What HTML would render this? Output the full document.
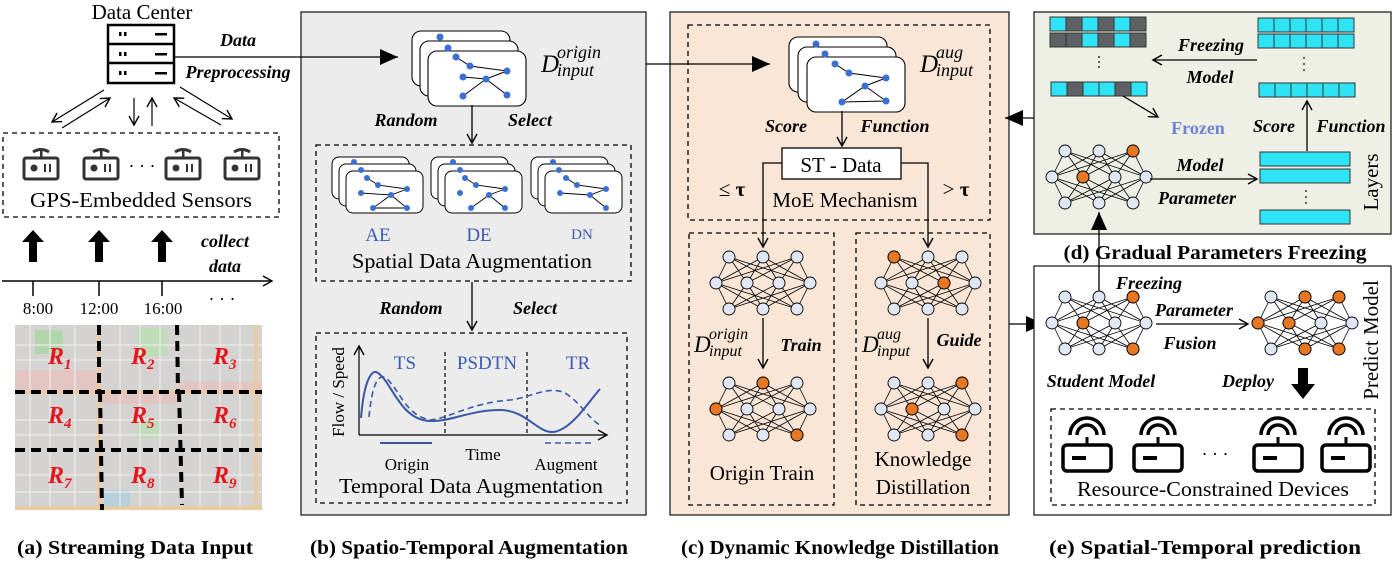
<!DOCTYPE html>
<html><head><meta charset="utf-8"><style>
html,body{margin:0;padding:0;background:#fff}
svg{display:block}
text{font-family:"Liberation Serif",serif}
.bi{font-weight:bold;font-style:italic;font-size:18px}
.t{font-size:21px}
.cap{font-weight:bold;font-size:20px}
.bl{fill:#3b5bb5}
</style></head><body>
<svg width="1393" height="561" viewBox="0 0 1393 561" xmlns="http://www.w3.org/2000/svg">
<defs>
<marker id="oa" markerWidth="12" markerHeight="12" refX="10" refY="6" orient="auto" markerUnits="userSpaceOnUse"><path d="M1,1 L10,6 L1,11" fill="none" stroke="#000" stroke-width="1.4"/></marker>
<marker id="fa" markerWidth="20" markerHeight="16" refX="18" refY="8" orient="auto" markerUnits="userSpaceOnUse"><path d="M0,0 L18,8 L0,16 Z" fill="#000"/></marker>
<symbol id="net" overflow="visible">
<g stroke="#000" stroke-width="0.8">
<path d="M-34,-26L-47,0M-34,-26L-16,0M-34,-26L16,0M-34,-26L47,0M0,-26L-47,0M0,-26L-16,0M0,-26L16,0M0,-26L47,0M34,-26L-47,0M34,-26L-16,0M34,-26L16,0M34,-26L47,0M-34,26L-47,0M-34,26L-16,0M-34,26L16,0M-34,26L47,0M0,26L-47,0M0,26L-16,0M0,26L16,0M0,26L47,0M34,26L-47,0M34,26L-16,0M34,26L16,0M34,26L47,0"/>
</g>
<g fill="#dfe7f6" stroke="#000" stroke-width="0.9">
<circle cx="-34" cy="-26" r="6"/><circle cx="0" cy="-26" r="6"/><circle cx="34" cy="-26" r="6"/>
<circle cx="-47" cy="0" r="6"/><circle cx="-16" cy="0" r="6"/><circle cx="16" cy="0" r="6"/><circle cx="47" cy="0" r="6"/>
<circle cx="-34" cy="26" r="6"/><circle cx="0" cy="26" r="6"/><circle cx="34" cy="26" r="6"/>
</g>
</symbol>
<symbol id="card" overflow="visible">
<rect x="0" y="0" width="98" height="55" rx="9" fill="#fff" stroke="#000" stroke-width="1.1"/>
</symbol>
<symbol id="scard" overflow="visible">
<rect x="0" y="0" width="77" height="42" rx="7" fill="#fff" stroke="#000" stroke-width="1"/>
</symbol>
<symbol id="sens" overflow="visible">
<rect x="-17" y="-10" width="34" height="21" rx="2" fill="#fff" stroke="#333" stroke-width="3"/>
<circle cx="-7" cy="0" r="3.5" fill="#333"/><rect x="3" y="-4" width="2" height="8" fill="#333"/><rect x="8" y="-4" width="2" height="8" fill="#333"/>
<path d="M-8,-16 Q0,-21 8,-16" fill="none" stroke="#333" stroke-width="3"/><rect x="-1" y="-17" width="2.5" height="7" fill="#333"/>
</symbol>
<symbol id="dev" overflow="visible">
<rect x="-24" y="-10" width="48" height="26" rx="4" fill="#fff" stroke="#000" stroke-width="3.5"/>
<rect x="-15" y="1" width="14" height="4" fill="#000"/>
<rect x="-1.5" y="-18" width="3" height="8" fill="#000"/>
<path d="M-10,-20 A10,10 0 0 1 10,-20" fill="none" stroke="#000" stroke-width="3.5"/>
<path d="M-17,-20 A17,17 0 0 1 17,-20" fill="none" stroke="#000" stroke-width="3.5"/>
</symbol>
</defs>

<!-- ========== (a) ========== -->
<text x="142" y="19" class="t" text-anchor="middle">Data Center</text>
<g stroke="#000" stroke-width="2.5" fill="#fff">
<rect x="108" y="25" width="66" height="58"/>
<line x1="108" y1="44" x2="174" y2="44"/><line x1="108" y1="63" x2="174" y2="63"/>
</g>
<g fill="#000">
<rect x="119" y="32" width="2.5" height="4"/><rect x="124" y="32" width="2.5" height="4"/><rect x="155" y="33" width="12" height="2.5"/>
<rect x="119" y="52" width="2.5" height="4"/><rect x="124" y="52" width="2.5" height="4"/><rect x="155" y="53" width="12" height="2.5"/>
<rect x="119" y="71" width="2.5" height="4"/><rect x="124" y="71" width="2.5" height="4"/><rect x="155" y="72" width="12" height="2.5"/>
</g>
<g stroke="#000" stroke-width="1.2" marker-end="url(#oa)">
<line x1="104" y1="90" x2="52" y2="122"/>
<line x1="62" y1="128" x2="110" y2="98"/>
<line x1="134" y1="98" x2="134" y2="125"/>
<line x1="152" y1="126" x2="152" y2="98"/>
<line x1="180" y1="87" x2="232" y2="119"/>
<line x1="221" y1="125" x2="174" y2="98"/>
</g>
<text x="238" y="46" class="bi" text-anchor="middle">Data</text>
<text x="238" y="78" class="bi" text-anchor="middle">Preprocessing</text>
<line x1="174" y1="57" x2="300" y2="57" stroke="#000" stroke-width="1.3"/>

<rect x="3" y="133" width="276" height="84" fill="none" stroke="#000" stroke-width="1.3" stroke-dasharray="5,4"/>
<use href="#sens" x="41" y="168"/><use href="#sens" x="101" y="168"/><use href="#sens" x="183" y="168"/><use href="#sens" x="242" y="168"/>
<text x="142" y="172" font-size="18" text-anchor="middle">· · ·</text>
<text x="141" y="207" class="t" text-anchor="middle" textLength="222" lengthAdjust="spacingAndGlyphs">GPS-Embedded Sensors</text>

<g fill="#000">
<path d="M33,230 L44,242 L37,242 L37,262 L29,262 L29,242 L22,242 Z"/>
<path d="M99,230 L110,242 L103,242 L103,262 L95,262 L95,242 L88,242 Z"/>
<path d="M162,230 L173,242 L166,242 L166,262 L158,262 L158,242 L151,242 Z"/>
</g>
<text x="225" y="247" class="bi" font-size="21" text-anchor="middle">collect</text>
<text x="225" y="272" class="bi" font-size="21" text-anchor="middle">data</text>
<line x1="2" y1="281" x2="272" y2="281" stroke="#000" stroke-width="1.5" marker-end="url(#oa)"/>
<g stroke="#000" stroke-width="1.5"><line x1="33" y1="281" x2="33" y2="296"/><line x1="99" y1="281" x2="99" y2="296"/><line x1="162" y1="281" x2="162" y2="296"/></g>
<g font-size="17" text-anchor="middle"><text x="38" y="314">8:00</text><text x="99" y="314">12:00</text><text x="163" y="314">16:00</text></g>
<text x="222" y="305" font-size="18" text-anchor="middle">· · ·</text>

<!-- map -->
<rect x="15" y="325" width="247" height="185" fill="#d5d3d1"/>
<rect x="15" y="370" width="85" height="20" fill="#e3c6c2"/>
<rect x="178" y="382" width="84" height="12" fill="#e3c6c2"/>
<rect x="100" y="392" width="78" height="12" fill="#e3c6c2"/>
<rect x="35" y="330" width="28" height="24" fill="#b0d6aa"/>
<rect x="137" y="328" width="30" height="28" fill="#bfdcb8"/>
<rect x="137" y="420" width="22" height="18" fill="#bfdcb8"/>
<rect x="104" y="490" width="26" height="18" fill="#b5d0dc"/>
<g stroke="#ececec" stroke-width="1.2">
<line x1="15" y1="420" x2="262" y2="420"/><line x1="15" y1="475" x2="262" y2="475"/><line x1="15" y1="360" x2="262" y2="360"/>
<line x1="15" y1="345" x2="262" y2="345"/><line x1="15" y1="435" x2="262" y2="435"/><line x1="15" y1="492" x2="262" y2="492"/>
<line x1="50" y1="325" x2="50" y2="510"/><line x1="140" y1="325" x2="140" y2="510"/><line x1="220" y1="325" x2="220" y2="510"/>
<line x1="30" y1="325" x2="30" y2="510"/><line x1="75" y1="325" x2="75" y2="510"/><line x1="120" y1="325" x2="120" y2="510"/><line x1="160" y1="325" x2="160" y2="510"/><line x1="200" y1="325" x2="200" y2="510"/><line x1="240" y1="325" x2="240" y2="510"/>
</g>
<g stroke="#f0c994" stroke-width="3"><line x1="99" y1="325" x2="99" y2="510"/><line x1="15" y1="508" x2="262" y2="508"/><line x1="15" y1="392" x2="262" y2="392"/><line x1="256" y1="325" x2="256" y2="510"/></g>
<g stroke="#000" stroke-width="4" stroke-dasharray="10,6">
<line x1="99" y1="325" x2="99" y2="392"/><line x1="100" y1="392" x2="102" y2="510"/>
<line x1="177" y1="325" x2="178" y2="392"/><line x1="179" y1="392" x2="182" y2="505"/>
<line x1="15" y1="392" x2="262" y2="392"/><line x1="15" y1="450" x2="262" y2="450"/>
</g>
<g fill="#e8141c" font-weight="bold" font-style="italic" font-size="24">
<text x="48" y="364">R<tspan font-size="15" dy="5">1</tspan></text>
<text x="131" y="364">R<tspan font-size="15" dy="5">2</tspan></text>
<text x="213" y="364">R<tspan font-size="15" dy="5">3</tspan></text>
<text x="48" y="423">R<tspan font-size="15" dy="5">4</tspan></text>
<text x="131" y="423">R<tspan font-size="15" dy="5">5</tspan></text>
<text x="213" y="423">R<tspan font-size="15" dy="5">6</tspan></text>
<text x="48" y="483">R<tspan font-size="15" dy="5">7</tspan></text>
<text x="131" y="483">R<tspan font-size="15" dy="5">8</tspan></text>
<text x="213" y="483">R<tspan font-size="15" dy="5">9</tspan></text>
</g>

<!-- ========== (b) ========== -->
<rect x="301" y="12" width="345" height="503" fill="#ececec" stroke="#222" stroke-width="1.3"/>
<line x1="300" y1="57" x2="398" y2="57" stroke="#000" stroke-width="1.3" marker-end="url(#fa)"/>
<use href="#card" x="412" y="31"/><use href="#card" x="420" y="41"/><use href="#card" x="428" y="51"/>
<g fill="#3b6fd4"><circle cx="440" cy="37" r="3.5"/><circle cx="448" cy="48" r="3.5"/></g>
<g stroke="#000" stroke-width="1" fill="none"><path d="M456,57 L470,66 L507,71 L486,79 L463,77 M486,79 L507,95 M486,79 L463,96"/></g>
<g fill="#3b6fd4"><circle cx="456" cy="57" r="3.5"/><circle cx="470" cy="66" r="3.5"/><circle cx="507" cy="71" r="3.5"/><circle cx="486" cy="79" r="3.5"/><circle cx="463" cy="77" r="3.5"/><circle cx="507" cy="95" r="3.5"/><circle cx="463" cy="96" r="3.5"/></g>
<text x="541" y="72" font-size="25" font-style="italic">D</text>
<text x="557" y="58" font-size="18" font-style="italic">origin</text>
<text x="557" y="76" font-size="18" font-style="italic">input</text>
<text x="406" y="126" class="bi" text-anchor="middle">Random</text>
<text x="530" y="126" class="bi" text-anchor="middle">Select</text>
<line x1="472" y1="105" x2="472" y2="143" stroke="#000" stroke-width="1.3" marker-end="url(#oa)"/>
<rect x="316" y="145" width="315" height="136" fill="none" stroke="#000" stroke-width="1.3" stroke-dasharray="5,4"/>
<g>
<use href="#scard" x="332" y="157"/><use href="#scard" x="339" y="164"/><use href="#scard" x="346" y="171"/>
<path d="M367,178 L378,185 L407,189 L391,195 L361,193 M391,195 L407,208 L373,208 Z" stroke="#000" stroke-width="0.9" fill="none"/>
<g fill="#3b6fd4"><circle cx="354" cy="162" r="3"/><circle cx="361" cy="170" r="3"/><circle cx="367" cy="178" r="3"/><circle cx="378" cy="185" r="3"/><circle cx="407" cy="189" r="3"/><circle cx="391" cy="195" r="3"/><circle cx="361" cy="193" r="3"/><circle cx="407" cy="208" r="3"/><circle cx="373" cy="208" r="3"/></g>
<use href="#scard" x="431" y="157"/><use href="#scard" x="438" y="164"/><use href="#scard" x="445" y="171"/>
<path d="M465,178 L476,185 L505,189 L489,195 L505,208 M489,195 L471,208" stroke="#000" stroke-width="0.9" fill="none"/>
<g fill="#3b6fd4"><circle cx="453" cy="162" r="3"/><circle cx="460" cy="170" r="3"/><circle cx="465" cy="178" r="3"/><circle cx="476" cy="185" r="3"/><circle cx="505" cy="189" r="3"/><circle cx="489" cy="195" r="3"/><circle cx="460" cy="193" r="3"/><circle cx="505" cy="208" r="3"/><circle cx="471" cy="208" r="3"/></g>
<use href="#scard" x="531" y="157"/><use href="#scard" x="538" y="164"/><use href="#scard" x="545" y="171"/>
<path d="M566,178 L577,185 L606,189 L590,195 L560,193 M590,195 L606,208" stroke="#000" stroke-width="0.9" fill="none"/>
<g fill="#3b6fd4"><circle cx="553" cy="162" r="3"/><circle cx="559" cy="170" r="3"/><circle cx="566" cy="178" r="3"/><circle cx="577" cy="185" r="3"/><circle cx="606" cy="189" r="3"/><circle cx="590" cy="195" r="3"/><circle cx="560" cy="193" r="3"/><circle cx="606" cy="208" r="3"/></g>
</g>
<text x="378" y="241" font-size="19" class="bl" text-anchor="middle">AE</text>
<text x="479" y="241" font-size="19" class="bl" text-anchor="middle">DE</text>
<text x="582" y="239" font-size="15" class="bl" text-anchor="middle">DN</text>
<text x="472" y="268" class="t" text-anchor="middle" textLength="240" lengthAdjust="spacingAndGlyphs">Spatial Data Augmentation</text>
<line x1="472" y1="282" x2="472" y2="330" stroke="#000" stroke-width="1.3" marker-end="url(#oa)"/>
<text x="411" y="314" class="bi" text-anchor="middle">Random</text>
<text x="535" y="314" class="bi" text-anchor="middle">Select</text>
<rect x="316" y="333" width="311" height="170" fill="none" stroke="#000" stroke-width="1.3" stroke-dasharray="5,4"/>
<g stroke="#000" stroke-width="1.2" fill="none">
<line x1="359" y1="435" x2="359" y2="346" marker-end="url(#oa)"/>
<line x1="359" y1="435" x2="607" y2="435" marker-end="url(#oa)"/>
</g>
<g stroke="#000" stroke-width="1.2" stroke-dasharray="4,3"><line x1="445" y1="352" x2="445" y2="435"/><line x1="527" y1="352" x2="527" y2="435"/></g>
<text x="405" y="369" font-size="19" class="bl" text-anchor="middle">TS</text>
<text x="487" y="369" font-size="19" class="bl" text-anchor="middle">PSDTN</text>
<text x="578" y="369" font-size="19" class="bl" text-anchor="middle">TR</text>
<path d="M361,418 C364,380 372,368 378,373 C392,382 400,420 430,421 C450,422 470,410 500,410 C530,410 540,440 560,430 C575,424 590,400 600,389" fill="none" stroke="#3a56a8" stroke-width="2"/>
<path d="M369,417 C372,385 378,373 386,378 C400,390 405,415 430,420 C450,418 470,403 510,400 C530,398 548,385 565,393 C580,402 590,420 600,425" fill="none" stroke="#3a56a8" stroke-width="1.6" stroke-dasharray="6,4"/>
<line x1="380" y1="443" x2="432" y2="443" stroke="#3a56a8" stroke-width="2"/>
<line x1="545" y1="443" x2="592" y2="443" stroke="#3a56a8" stroke-width="1.6" stroke-dasharray="6,4"/>
<text x="407" y="470" font-size="17" text-anchor="middle">Origin</text>
<text x="483" y="460" font-size="17" text-anchor="middle">Time</text>
<text x="566" y="470" font-size="17" text-anchor="middle">Augment</text>
<text x="471" y="493" class="t" text-anchor="middle" textLength="264" lengthAdjust="spacingAndGlyphs">Temporal Data Augmentation</text>
<text transform="translate(344,392) rotate(-90)" font-size="17" text-anchor="middle">Flow / Speed</text>

<!-- ========== (c) ========== -->
<rect x="670" y="12" width="339" height="503" fill="#f9e6d6" stroke="#222" stroke-width="1.3"/>
<line x1="646" y1="64" x2="770" y2="64" stroke="#000" stroke-width="1.3" marker-end="url(#fa)"/>
<rect x="688" y="25" width="302" height="195" fill="none" stroke="#000" stroke-width="1.3" stroke-dasharray="5,4"/>
<use href="#card" x="789" y="37"/><use href="#card" x="798" y="47"/><use href="#card" x="807" y="57"/>
<g fill="#3b6fd4"><circle cx="816" cy="44" r="3.5"/><circle cx="825" cy="54" r="3.5"/></g>
<path d="M835,64 L849,73 L886,78 L865,86 L842,102 L886,101 L865,86" stroke="#000" stroke-width="1" fill="none"/>
<g fill="#3b6fd4"><circle cx="835" cy="64" r="3.5"/><circle cx="849" cy="73" r="3.5"/><circle cx="886" cy="78" r="3.5"/><circle cx="865" cy="86" r="3.5"/><circle cx="842" cy="102" r="3.5"/><circle cx="886" cy="101" r="3.5"/></g>
<text x="920" y="72" font-size="25" font-style="italic">D</text>
<text x="936" y="58" font-size="18" font-style="italic">aug</text>
<text x="936" y="76" font-size="18" font-style="italic">input</text>
<text x="786" y="132" class="bi" text-anchor="middle">Score</text>
<text x="895" y="132" class="bi" text-anchor="middle">Function</text>
<line x1="842" y1="111" x2="842" y2="146" stroke="#000" stroke-width="1.3" marker-end="url(#oa)"/>
<rect x="782" y="148" width="119" height="31" fill="#fff" stroke="#000" stroke-width="1.3"/>
<text x="841" y="172" class="t" text-anchor="middle">ST - Data</text>
<polyline points="782,163 763,163 763,247" fill="none" stroke="#000" stroke-width="1.3" marker-end="url(#oa)"/>
<polyline points="901,163 928,163 928,247" fill="none" stroke="#000" stroke-width="1.3" marker-end="url(#oa)"/>
<text x="732" y="196" font-size="21" text-anchor="middle">≤ <tspan font-weight="bold">τ</tspan></text>
<text x="956" y="196" font-size="21" text-anchor="middle">&gt; <tspan font-weight="bold">τ</tspan></text>
<text x="845" y="207" class="t" text-anchor="middle">MoE Mechanism</text>
<rect x="689" y="233" width="145" height="272" fill="none" stroke="#000" stroke-width="1.3" stroke-dasharray="5,4"/>
<rect x="856" y="233" width="134" height="272" fill="none" stroke="#000" stroke-width="1.3" stroke-dasharray="5,4"/>
<use href="#net" x="763" y="283"/>
<use href="#net" x="763" y="409"/>
<g fill="#e87722" stroke="#000" stroke-width="0.9"><circle cx="763" cy="383" r="6"/><circle cx="716" cy="409" r="6"/><circle cx="797" cy="435" r="6"/></g>
<use href="#net" x="928" y="283"/>
<g fill="#e87722" stroke="#000" stroke-width="0.9"><circle cx="894" cy="257" r="6"/><circle cx="944" cy="283" r="6"/></g>
<use href="#net" x="928" y="409"/>
<g fill="#e87722" stroke="#000" stroke-width="0.9"><circle cx="962" cy="383" r="6"/><circle cx="912" cy="409" r="6"/><circle cx="962" cy="435" r="6"/></g>
<line x1="763" y1="318" x2="763" y2="368" stroke="#000" stroke-width="1.3" marker-end="url(#oa)"/>
<line x1="928" y1="318" x2="928" y2="368" stroke="#000" stroke-width="1.3" marker-end="url(#oa)"/>
<text x="694" y="352" font-size="23" font-style="italic">D</text>
<text x="709" y="339" font-size="16" font-style="italic">origin</text>
<text x="709" y="356" font-size="16" font-style="italic">input</text>
<text x="801" y="351" class="bi" text-anchor="middle">Train</text>
<text x="862" y="352" font-size="23" font-style="italic">D</text>
<text x="877" y="339" font-size="16" font-style="italic">aug</text>
<text x="877" y="356" font-size="16" font-style="italic">input</text>
<text x="959" y="346" class="bi" text-anchor="middle">Guide</text>
<text x="762" y="480" class="t" text-anchor="middle">Origin Train</text>
<text x="923" y="466" class="t" text-anchor="middle">Knowledge</text>
<text x="923" y="494" class="t" text-anchor="middle">Distillation</text>
<line x1="1009" y1="324" x2="1044" y2="324" stroke="#000" stroke-width="1.3" marker-end="url(#fa)"/>

<!-- ========== (d) ========== -->
<rect x="1034" y="12" width="357" height="222" fill="#eef0e5" stroke="#222" stroke-width="1.3"/>
<line x1="1034" y1="118" x2="1005" y2="118" stroke="#000" stroke-width="1.3" marker-end="url(#fa)"/>
<g stroke="#333" stroke-width="1">
<g transform="translate(1050,17)">
<rect x="0" width="16" height="14" fill="#2fe3f6"/><rect x="16" width="16" height="14" fill="#5d6166"/><rect x="32" width="16" height="14" fill="#2fe3f6"/><rect x="48" width="16" height="14" fill="#5d6166"/><rect x="64" width="16" height="14" fill="#2fe3f6"/><rect x="80" width="16" height="14" fill="#5d6166"/>
</g>
<g transform="translate(1050,33)">
<rect x="0" width="16" height="14" fill="#5d6166"/><rect x="16" width="16" height="14" fill="#5d6166"/><rect x="32" width="16" height="14" fill="#2fe3f6"/><rect x="48" width="16" height="14" fill="#5d6166"/><rect x="64" width="16" height="14" fill="#2fe3f6"/><rect x="80" width="16" height="14" fill="#5d6166"/>
</g>
<g transform="translate(1051,82)">
<rect x="0" width="16" height="14" fill="#2fe3f6"/><rect x="16" width="16" height="14" fill="#5d6166"/><rect x="32" width="16" height="14" fill="#2fe3f6"/><rect x="48" width="16" height="14" fill="#2fe3f6"/><rect x="64" width="16" height="14" fill="#5d6166"/><rect x="80" width="16" height="14" fill="#2fe3f6"/>
</g>
<g fill="#2fe3f6">
<g transform="translate(1258,18)"><rect x="0" width="16" height="14"/><rect x="16" width="16" height="14"/><rect x="32" width="16" height="14"/><rect x="48" width="16" height="14"/><rect x="64" width="16" height="14"/><rect x="80" width="16" height="14"/></g>
<g transform="translate(1258,34)"><rect x="0" width="16" height="14"/><rect x="16" width="16" height="14"/><rect x="32" width="16" height="14"/><rect x="48" width="16" height="14"/><rect x="64" width="16" height="14"/><rect x="80" width="16" height="14"/></g>
<g transform="translate(1259,83)"><rect x="0" width="16" height="14"/><rect x="16" width="16" height="14"/><rect x="32" width="16" height="14"/><rect x="48" width="16" height="14"/><rect x="64" width="16" height="14"/><rect x="80" width="16" height="14"/></g>
<rect x="1260" y="152" width="90" height="14"/><rect x="1260" y="169" width="90" height="14"/><rect x="1260" y="210" width="90" height="14"/>
</g>
</g>
<g fill="#333"><circle cx="1099" cy="57" r="1"/><circle cx="1099" cy="62" r="1"/><circle cx="1099" cy="67" r="1"/>
<circle cx="1304" cy="58" r="1"/><circle cx="1304" cy="64" r="1"/><circle cx="1304" cy="70" r="1"/>
<circle cx="1306" cy="191" r="1"/><circle cx="1306" cy="197" r="1"/><circle cx="1306" cy="203" r="1"/></g>
<line x1="1257" y1="60" x2="1153" y2="60" stroke="#000" stroke-width="1.3" marker-end="url(#oa)"/>
<text x="1211" y="51" class="bi" text-anchor="middle">Freezing</text>
<text x="1210" y="83" class="bi" text-anchor="middle">Model</text>
<line x1="1123" y1="96" x2="1158" y2="117" stroke="#000" stroke-width="1.3" marker-end="url(#oa)"/>
<text x="1198" y="134" font-size="18" font-weight="bold" fill="#6f83d6" text-anchor="middle">Frozen</text>
<text x="1274" y="132" class="bi" text-anchor="middle">Score</text>
<text x="1351" y="132" class="bi" text-anchor="middle">Function</text>
<line x1="1307" y1="151" x2="1307" y2="101" stroke="#000" stroke-width="1.3" marker-end="url(#oa)"/>
<use href="#net" x="1099" y="177"/>
<g fill="#e87722" stroke="#000" stroke-width="0.9"><circle cx="1133" cy="151" r="6"/><circle cx="1083" cy="177" r="6"/></g>
<line x1="1150" y1="179" x2="1257" y2="179" stroke="#000" stroke-width="1.3" marker-end="url(#oa)"/>
<text x="1200" y="171" class="bi" text-anchor="middle">Model</text>
<text x="1197" y="204" class="bi" text-anchor="middle">Parameter</text>
<text transform="translate(1378,182) rotate(-90)" class="t" text-anchor="middle">Layers</text>
<text x="1215" y="259" class="cap" text-anchor="middle" textLength="303" lengthAdjust="spacingAndGlyphs">(d)  Gradual Parameters Freezing</text>

<!-- ========== (e) ========== -->
<rect x="1034" y="266" width="357" height="249" fill="#fff" stroke="#222" stroke-width="1.3"/>
<line x1="1099" y1="303" x2="1099" y2="212" stroke="#000" stroke-width="1.3" marker-end="url(#fa)"/>
<use href="#net" x="1099" y="323"/>
<g fill="#e87722" stroke="#000" stroke-width="0.9"><circle cx="1133" cy="297" r="6"/><circle cx="1083" cy="323" r="6"/><circle cx="1133" cy="349" r="6"/></g>
<use href="#net" x="1305" y="323"/>
<g fill="#e87722" stroke="#000" stroke-width="0.9"><circle cx="1305" cy="297" r="6"/><circle cx="1339" cy="297" r="6"/><circle cx="1258" cy="323" r="6"/><circle cx="1289" cy="323" r="6"/><circle cx="1305" cy="349" r="6"/><circle cx="1339" cy="349" r="6"/></g>
<line x1="1156" y1="324" x2="1248" y2="324" stroke="#000" stroke-width="1.3" marker-end="url(#oa)"/>
<text x="1149" y="289" class="bi" text-anchor="middle">Freezing</text>
<text x="1194" y="316" class="bi" text-anchor="middle">Parameter</text>
<text x="1190" y="349" class="bi" text-anchor="middle">Fusion</text>
<text x="1101" y="387" class="bi" text-anchor="middle">Student Model</text>
<text x="1248" y="387" class="bi" text-anchor="middle">Deploy</text>
<path d="M1298,368 L1308,368 L1308,384 L1315,384 L1303,399 L1291,384 L1298,384 Z" fill="#000"/>
<text transform="translate(1378,340) rotate(-90)" class="t" text-anchor="middle">Predict Model</text>
<rect x="1051" y="409" width="324" height="96" fill="none" stroke="#000" stroke-width="1.3" stroke-dasharray="5,4"/>
<use href="#dev" x="1087" y="455"/><use href="#dev" x="1158" y="455"/><use href="#dev" x="1278" y="455"/><use href="#dev" x="1346" y="455"/>
<text x="1215" y="460" font-size="18" text-anchor="middle">· · ·</text>
<text x="1213" y="496" class="t" text-anchor="middle" textLength="272" lengthAdjust="spacingAndGlyphs">Resource-Constrained Devices</text>

<!-- captions -->
<text x="135" y="554" class="cap" text-anchor="middle" textLength="236" lengthAdjust="spacingAndGlyphs">(a)  Streaming Data Input</text>
<text x="469" y="554" class="cap" text-anchor="middle" textLength="318" lengthAdjust="spacingAndGlyphs">(b)  Spatio-Temporal Augmentation</text>
<text x="840" y="554" class="cap" text-anchor="middle" textLength="318" lengthAdjust="spacingAndGlyphs">(c)  Dynamic Knowledge Distillation</text>
<text x="1205" y="554" class="cap" text-anchor="middle" textLength="312" lengthAdjust="spacingAndGlyphs">(e)  Spatial-Temporal prediction</text>
</svg>
</body></html>
